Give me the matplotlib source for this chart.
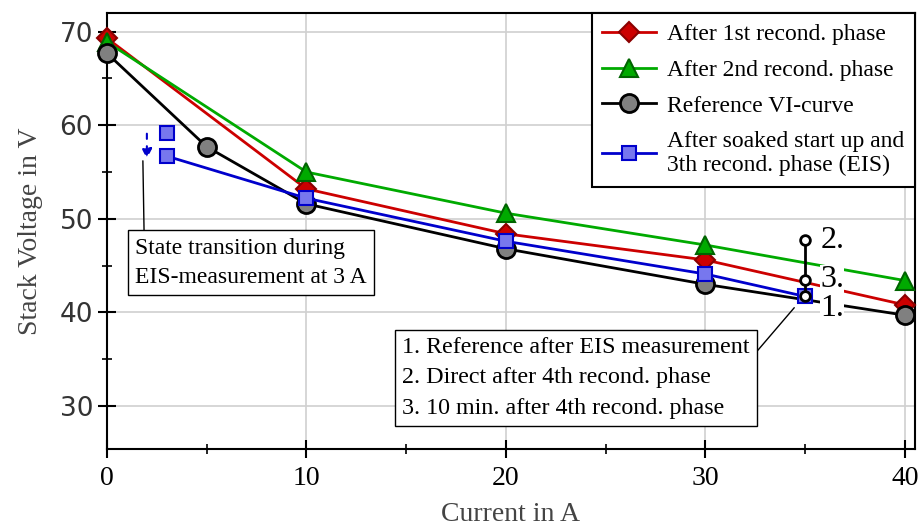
import matplotlib.pyplot as plt
from matplotlib.ticker import MultipleLocator

# data
current_1st = [0, 10, 20, 30, 40]
voltage_1st = [69.3, 53.2, 48.4, 45.6, 40.8]

current_2nd = [0, 10, 20, 30, 40]
voltage_2nd = [68.9, 55.0, 50.6, 47.2, 43.4]

current_ref = [0, 5, 10, 20, 30, 40]
voltage_ref = [67.7, 57.7, 51.6, 46.8, 43.0, 39.7]

current_eis = [3, 10, 20, 30, 35]
voltage_eis = [56.7, 52.2, 47.6, 44.1, 41.7]
eis_start_current = 3
eis_start_voltage = 59.2

# points 1., 2., 3. at 35 A
marked_current = 35
marked_voltage = [41.7, 47.7, 43.5]   # 1., 2., 3.
marked_labels = ["1.", "2.", "3."]
label_voltage = [40.4, 47.7, 43.5]

serif = "Liberation Serif"

fig = plt.figure(figsize=(9.19, 5.26), dpi=100)
ax = fig.add_axes([0.1164, 0.1464, 0.8792, 0.8289])

#the four curves
ax.plot(current_1st, voltage_1st, color="#cc0000", lw=2, marker="D", ms=10,
        mfc="#cc0000", mec="#8b0000", mew=1.5, clip_on=False, zorder=3,
        label="After 1st recond. phase")
ax.plot(current_2nd, voltage_2nd, color="#00aa00", lw=2, marker="^", ms=13,
        mfc="#00aa00", mec="#006400", mew=1.5, clip_on=False, zorder=4,
        label="After 2nd recond. phase")
ax.plot(current_ref, voltage_ref, color="black", lw=2, marker="o", ms=13,
        mfc="#808080", mec="black", mew=2, clip_on=False, zorder=5,
        label="Reference VI-curve")
ax.plot(current_eis, voltage_eis, color="#0000cc", lw=2, marker="s", ms=10,
        mfc="#7777ee", mec="#0000cc", mew=1.5, clip_on=False, zorder=6,
        label="After soaked start up and\n3th recond. phase (EIS)")
ax.plot([eis_start_current], [eis_start_voltage], ls="none", marker="s", ms=10,
        mfc="#7777ee", mec="#0000cc", mew=1.5, zorder=6)

# state transition arrow (dashed, blue)
ax.annotate("", xy=(2.0, 56.4), xytext=(2.0, 59.1),
            arrowprops=dict(arrowstyle="-|>", color="#0000cc", lw=1.5,
                            linestyle=(0, (2.5, 3.5)), mutation_scale=15,
                            shrinkA=0, shrinkB=0), zorder=6)

# measurements at 35 A
ax.plot([marked_current, marked_current], [marked_voltage[0], marked_voltage[1]],
        color="black", lw=2, zorder=7)
ax.plot([marked_current] * 3, marked_voltage, ls="none", marker="o", ms=7,
        mfc="white", mec="black", mew=2, zorder=8)
for v, lab in zip(label_voltage, marked_labels):
    ax.text(marked_current + 0.75, v, lab,
            family=serif, fontsize=23, va="center", ha="left", zorder=7,
            bbox=dict(boxstyle="square,pad=0.0", fc="white", ec="none"))

# annotation boxes
ax.annotate("State transition during\nEIS-measurement at 3 A",
            xy=(1.8, 56.2), xytext=(1.4, 48.0), textcoords="data",
            family=serif, fontsize=17, va="top", ha="left", linespacing=1.55,
            bbox=dict(boxstyle="square,pad=0.3", fc="white", ec="black", lw=1),
            arrowprops=dict(arrowstyle="-", color="black", lw=1,
                            shrinkA=0, shrinkB=0, relpos=(0.04, 1.0)), zorder=9)
ax.annotate("1. Reference after EIS measurement\n2. Direct after 4th recond. phase\n3. 10 min. after 4th recond. phase",
            xy=(34.45, 40.5), xytext=(14.8, 37.4), textcoords="data",
            family=serif, fontsize=17.3, va="top", ha="left", linespacing=1.6,
            bbox=dict(boxstyle="square,pad=0.3", fc="white", ec="black", lw=1),
            arrowprops=dict(arrowstyle="-", color="black", lw=1,
                            shrinkA=0, shrinkB=0, relpos=(1.0, 0.72)), zorder=9)

# axes setup
ax.set_xlim(0, 40.5)
ax.set_ylim(25.4, 72.0)
ax.xaxis.set_major_locator(MultipleLocator(10))
ax.xaxis.set_minor_locator(MultipleLocator(5))
ax.yaxis.set_major_locator(MultipleLocator(10))
ax.yaxis.set_minor_locator(MultipleLocator(5))
ax.grid(True, which="major", color="#d0d0d0", lw=1.2)
ax.set_axisbelow(True)
ax.tick_params(which="major", direction="inout", length=13, width=1.5)
ax.tick_params(which="minor", direction="inout", length=7, width=1.2)
ax.tick_params(axis="x", which="major", pad=6)
for s in ax.spines.values():
    s.set_linewidth(1.5)

for lab in ax.get_xticklabels():
    lab.set_family(serif)
    lab.set_fontsize(20)
for lab in ax.get_yticklabels():
    lab.set_family(["Liberation Sans Narrow", "DejaVu Sans"])
    lab.set_fontsize(19)
    lab.set_color("#333333")

ax.set_xlabel("Current in A", family=serif, fontsize=20, color="#444444", labelpad=8)
ax.set_ylabel("Stack Voltage in V", family=serif, fontsize=20, color="#444444", labelpad=12)

#legend
leg = ax.legend(loc="upper right", borderaxespad=0, prop={"family": serif, "size": 17},
                fancybox=False, edgecolor="black", framealpha=1,
                handlelength=2.3, handletextpad=0.45, labelspacing=0.6,
                borderpad=0.45)
leg.get_frame().set_linewidth(1.5)
leg.set_zorder(10)

plt.savefig("out.png", dpi=100)
